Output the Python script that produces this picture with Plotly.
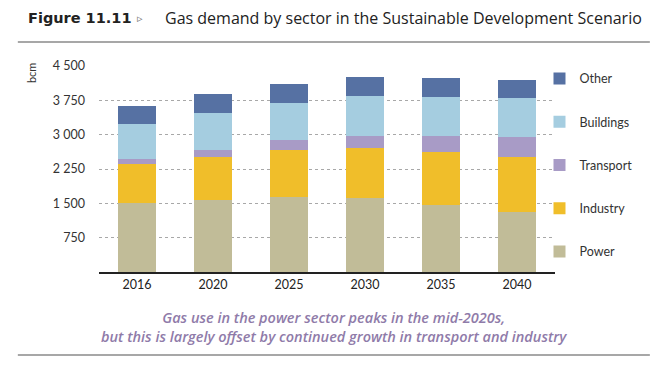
import plotly.graph_objects as go

years = ["2016", "2020", "2025", "2030", "2035", "2040"]
power = [1500, 1565, 1630, 1610, 1470, 1320]
industry = [865, 945, 1025, 1100, 1145, 1200]
transport = [110, 160, 220, 270, 355, 425]
buildings = [755, 795, 820, 860, 860, 860]
other = [395, 415, 415, 420, 415, 400]

series = [
    ("Power", power, "#c1bc98"),
    ("Industry", industry, "#f0be2a"),
    ("Transport", transport, "#a89bc6"),
    ("Buildings", buildings, "#a5cde0"),
    ("Other", other, "#5671a3"),
]
ytick_vals = [750, 1500, 2250, 3000, 3750, 4500]

fig = go.Figure()
for i, (name, vals, col) in enumerate(series):
    fig.add_trace(go.Bar(x=years, y=vals, name=name, marker_color=col,
                         marker_line_width=0, legendgroup=name,
                         legendrank=len(series) - i))

font_main = "'Open Sans', Lato, sans-serif"
fig.update_layout(
    barmode="stack",
    bargap=0.51,
    width=657, height=374,
    margin=dict(l=91, r=110, t=58, b=110, autoexpand=False),
    paper_bgcolor="white", plot_bgcolor="white",
    separators=". ",
    font=dict(family=font_main, size=12, color="#333333"),
    showlegend=True,
    legend=dict(x=0.966, xanchor="left", y=1.01, yanchor="top",
                traceorder="grouped", tracegroupgap=24, maxheight=320,
                font=dict(size=12.5, color="#333333", family="Lato, sans-serif"),
                itemwidth=30, bgcolor="rgba(0,0,0,0)"),
    xaxis=dict(showline=True, linecolor="#222222", linewidth=1.5,
               ticks="", tickfont=dict(size=12.5, color="#222222", family="Lato, sans-serif")),
    yaxis=dict(range=[0, 4500], tickvals=ytick_vals, tickformat=",",
               showgrid=True, gridcolor="#a8a8a8", griddash="dot", gridwidth=1,
               zeroline=False, showline=False, ticks="",
               ticklabelstandoff=13,
               tickfont=dict(size=12.5, color="#333333", family="Lato, sans-serif")),
)

fig.add_annotation(xref="paper", yref="paper", x=-0.149, y=(272 - 73) / 206, text="bcm",
                   textangle=-90, showarrow=False, xanchor="center", yanchor="middle",
                   font=dict(size=11, color="#333333", family="Lato, sans-serif"))
title_y = (272 - 18) / 206
fig.add_annotation(xref="paper", yref="paper", x=(26 - 99) / 456, y=title_y,
                   xanchor="left", yanchor="middle",
                   text="<b>Figure 11.11</b>", showarrow=False,
                   font=dict(size=14.5, color="#222222", family="'DejaVu Sans', sans-serif"))
fig.add_annotation(xref="paper", yref="paper", x=(135 - 99) / 456, y=title_y,
                   xanchor="left", yanchor="middle",
                   text="▹", showarrow=False,
                   font=dict(size=11, color="#777777", family="'DejaVu Sans', sans-serif"))
fig.add_annotation(xref="paper", yref="paper", x=(163 - 99) / 456, y=title_y,
                   xanchor="left", yanchor="middle",
                   text="Gas demand by sector in the Sustainable Development Scenario",
                   showarrow=False,
                   font=dict(size=16, color="#222222", family=font_main))
fig.add_annotation(xref="paper", yref="paper", x=(334 - 99) / 456, y=(272 - 327) / 206,
                   xanchor="center", yanchor="middle",
                   text="<i>Gas use in the power sector peaks in the mid-2020s,<br>but this is largely offset by continued growth in transport and industry</i>",
                   showarrow=False, align="center",
                   font=dict(size=14.5, color="#8f7ba9", family=font_main, weight=600))
fig.add_shape(type="line", xref="paper", yref="paper", x0=-0.178, x1=1.208,
              y0=(272 - 42) / 206, y1=(272 - 42) / 206,
              line=dict(color="#8a8a8a", width=1.5))
fig.add_shape(type="line", xref="paper", yref="paper", x0=-0.178, x1=1.208,
              y0=(272 - 355) / 206, y1=(272 - 355) / 206,
              line=dict(color="#8a8a8a", width=1.5))

fig.write_html("out.html")
